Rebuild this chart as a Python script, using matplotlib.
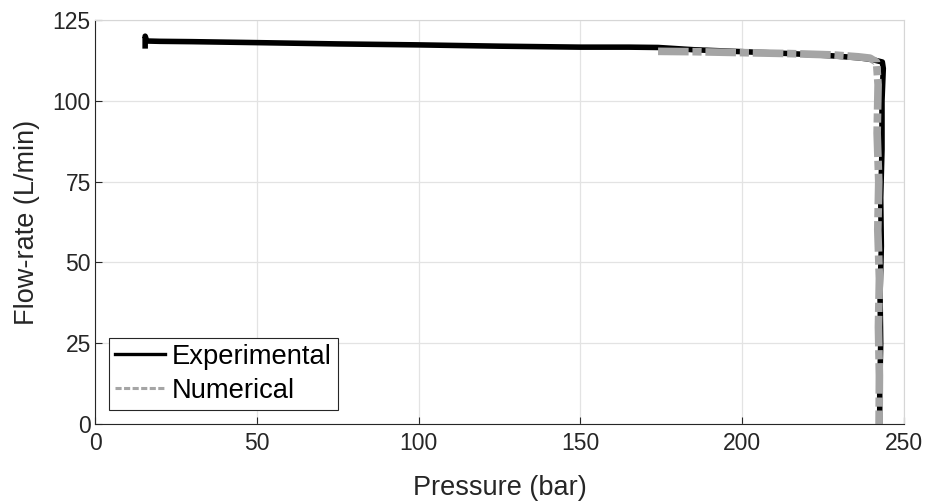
import matplotlib
matplotlib.use("Agg")
import matplotlib.pyplot as plt

# --
# Data
# --
exp_pressure = [15.5, 15.5, 16.0, 20, 30, 50, 75, 100, 125, 150, 165, 174, 185, 200, 215, 228,
                236, 240, 243.3, 243.6, 243.2, 243.2, 242.8, 243.0, 242.6, 242.8, 242.5, 242.5]
exp_flow = [117.0, 120.0, 118.5, 118.4, 118.3, 118.0, 117.6, 117.3, 116.9, 116.6, 116.6, 116.5,
            115.8, 115.2, 114.6, 113.9, 113.3, 112.8, 112.0, 110.0, 100, 85, 70, 55, 40, 25, 10, 0]

num_pressure = [174, 185, 200, 215, 228, 236, 239.5, 241.5, 242.0, 241.7, 242.2, 241.9, 242.4, 242.1, 242.4, 242.3]
num_flow = [115.3, 115.2, 114.9, 114.6, 114.2, 113.6, 113.2, 112.0, 105, 90, 75, 60, 45, 30, 15, 0]

x_ticks = [0, 50, 100, 150, 200, 250]
y_ticks = [0, 25, 50, 75, 100, 125]

#
# Plot setup
#
plt.rcParams["font.family"] = ["Liberation Sans", "DejaVu Sans"]

fig = plt.figure(figsize=(9.27, 5.04), dpi=100)
ax = fig.add_axes([95 / 927, 1 - 424 / 504, (904 - 95) / 927, (424 - 20) / 504])

ax.plot(exp_pressure, exp_flow, color="black", linewidth=4.0, solid_joinstyle="round",
        label="Experimental")
ax.plot(num_pressure, num_flow, color="#a5a5a5", linewidth=5.5, linestyle=(0, (4, 0.5, 1.2, 0.5)),
        label="Numerical")

ax.set_xlim(0, 250)
ax.set_ylim(0, 125)
ax.set_xticks(x_ticks)
ax.set_yticks(y_ticks)
ax.grid(True, color="#e3e3e3", linewidth=0.9)
ax.set_axisbelow(True)
ax.tick_params(direction="in", length=5, width=0.8, colors="#262626", labelsize=16.5)
ax.tick_params(axis="x", pad=6)
ax.tick_params(axis="y", pad=3)

for side in ["left", "bottom"]:
    ax.spines[side].set_color("#262626")
    ax.spines[side].set_linewidth(0.8)
for side in ["top", "right"]:
    ax.spines[side].set_color("#d6d6d6")
    ax.spines[side].set_linewidth(0.8)

ax.set_xlabel("Pressure (bar)", fontsize=19.5, color="#262626", labelpad=14)
ax.set_ylabel("Flow-rate (L/min)", fontsize=19.5, color="#262626", labelpad=9)

leg = ax.legend(loc="lower left", bbox_to_anchor=(0.0175, 0.035), fontsize=19.7, frameon=True,
                fancybox=False, edgecolor="#262626", framealpha=1, handlelength=1.83,
                handletextpad=0.25, borderpad=0.22, labelspacing=0.3, borderaxespad=0)
leg.get_frame().set_linewidth(0.8)
leg.legend_handles[1].set_linestyle((0, (2, 0.8)))
leg.legend_handles[1].set_linewidth(2.2)
leg.legend_handles[0].set_linewidth(2.4)

fig.savefig("out.png", dpi=100)
